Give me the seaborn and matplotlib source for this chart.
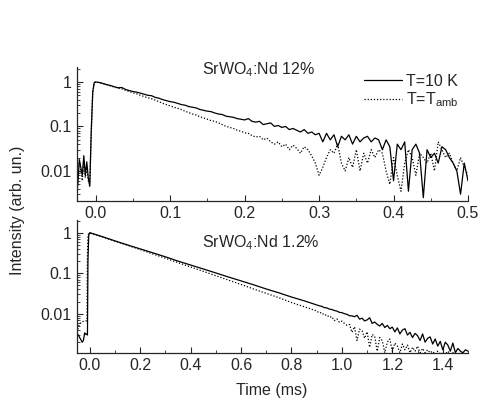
import numpy as np
import pandas as pd
import seaborn as sns
import matplotlib.pyplot as plt
from matplotlib.ticker import MultipleLocator, LogLocator, FuncFormatter, NullFormatter

# ---- SrWO4:Nd 12% (top panel) ----
t12_pre = [-0.026, -0.024, -0.022, -0.020, -0.018, -0.016, -0.014,
           -0.012, -0.010, -0.008, -0.006, -0.004, -0.002]
solid12_pre = [0.003, 0.005, 0.018, 0.012, 0.008, 0.022, 0.008,
               0.016, 0.007, 0.0045, 0.08, 0.6, 0.97]
dotted12_pre = [0.004, 0.012, 0.016, 0.010, 0.006, 0.018, 0.007,
                0.012, 0.006, 0.005, 0.07, 0.55, 0.95]

t12 = [0.000, 0.005, 0.010, 0.015, 0.020, 0.025, 0.030, 0.035, 0.040, 0.045,
       0.050, 0.055, 0.060, 0.065, 0.070, 0.075, 0.080, 0.085, 0.090, 0.095,
       0.100, 0.105, 0.110, 0.115, 0.120, 0.125, 0.130, 0.135, 0.140, 0.145,
       0.150, 0.155, 0.160, 0.165, 0.170, 0.175, 0.180, 0.185, 0.190, 0.195,
       0.200, 0.205, 0.210, 0.215, 0.220, 0.225, 0.230, 0.235, 0.240, 0.245,
       0.250, 0.255, 0.260, 0.265, 0.270, 0.275, 0.280, 0.285, 0.290, 0.295,
       0.300, 0.305, 0.310, 0.315, 0.320, 0.325, 0.330, 0.335, 0.340, 0.345,
       0.350, 0.355, 0.360, 0.365, 0.370, 0.375, 0.380, 0.385, 0.390, 0.395,
       0.400, 0.405, 0.410, 0.415, 0.420, 0.425, 0.430, 0.435, 0.440, 0.445,
       0.450, 0.455, 0.460, 0.465, 0.470, 0.475, 0.480, 0.485, 0.490, 0.495,
       0.500]
solid12 = [1.00, 0.97, 0.92, 0.87, 0.83, 0.78, 0.74, 0.75, 0.68, 0.64,
           0.61, 0.59, 0.56, 0.53, 0.50, 0.49, 0.45, 0.43, 0.40, 0.38,
           0.36, 0.35, 0.33, 0.31, 0.30, 0.28, 0.27, 0.26, 0.24, 0.23,
           0.22, 0.215, 0.20, 0.19, 0.185, 0.17, 0.165, 0.16, 0.15, 0.145,
           0.14, 0.15, 0.13, 0.125, 0.13, 0.11, 0.115, 0.12, 0.10, 0.105,
           0.095, 0.10, 0.085, 0.09, 0.082, 0.075, 0.085, 0.07, 0.075, 0.065,
           0.07, 0.045, 0.07, 0.05, 0.065, 0.035, 0.06, 0.05, 0.065, 0.04,
           0.06, 0.045, 0.055, 0.06, 0.045, 0.055, 0.05, 0.03, 0.05, 0.035,
           0.006, 0.04, 0.03, 0.045, 0.0035, 0.03, 0.04, 0.025, 0.0025, 0.03,
           0.02, 0.025, 0.015, 0.035, 0.03, 0.02, 0.015, 0.01, 0.003, 0.015,
           0.006]
dotted12 = [1.00, 0.96, 0.91, 0.86, 0.81, 0.77, 0.72, 0.70, 0.65, 0.61,
            0.57, 0.54, 0.50, 0.47, 0.44, 0.42, 0.39, 0.36, 0.33, 0.31,
            0.29, 0.27, 0.255, 0.24, 0.22, 0.205, 0.19, 0.18, 0.165, 0.155,
            0.145, 0.135, 0.13, 0.12, 0.11, 0.10, 0.095, 0.09, 0.082, 0.078,
            0.072, 0.07, 0.062, 0.058, 0.06, 0.05, 0.055, 0.045, 0.04, 0.045,
            0.035, 0.04, 0.03, 0.038, 0.032, 0.025, 0.035, 0.03, 0.022, 0.015,
            0.008, 0.012, 0.02, 0.03, 0.025, 0.04, 0.015, 0.01, 0.02, 0.012,
            0.03, 0.01, 0.025, 0.015, 0.03, 0.02, 0.03, 0.025, 0.01, 0.005,
            0.02, 0.008, 0.0035, 0.015, 0.03, 0.02, 0.008, 0.025, 0.02, 0.015,
            0.025, 0.01, 0.045, 0.03, 0.02, 0.025, 0.015, 0.01, 0.02, 0.012,
            0.008]

# ---- SrWO4:Nd 1.2% (bottom panel) ----
t1_pre = [-0.050, -0.045, -0.040, -0.035, -0.030, -0.025, -0.020,
          -0.015, -0.011, -0.009, -0.007, -0.004]
solid1_pre = [0.0032, 0.003, 0.0026, 0.0023, 0.002, 0.0022, 0.0034,
              0.0031, 0.0032, 0.003, 0.2, 0.85]
dotted1_pre = [0.0035, 0.0048, 0.0056, 0.006, 0.0064, 0.0065, 0.0066,
               0.0067, 0.0068, 0.3, 0.85, 0.98]

t1 = [0.00, 0.05, 0.10, 0.15, 0.20, 0.25, 0.30, 0.35, 0.40, 0.45,
      0.50, 0.55, 0.60, 0.65, 0.70, 0.75, 0.80, 0.85,
      0.90, 0.91, 0.92, 0.93, 0.94, 0.95, 0.96, 0.97, 0.98, 0.99,
      1.00, 1.01, 1.02, 1.03, 1.04, 1.05, 1.06, 1.07, 1.08, 1.09,
      1.10, 1.11, 1.12, 1.13, 1.14, 1.15, 1.16, 1.17, 1.18, 1.19,
      1.20, 1.21, 1.22, 1.23, 1.24, 1.25, 1.26, 1.27, 1.28, 1.29,
      1.30, 1.31, 1.32, 1.33, 1.34, 1.35, 1.36, 1.37, 1.38, 1.39,
      1.40, 1.41, 1.42, 1.43, 1.44, 1.45, 1.46, 1.47, 1.48, 1.49,
      1.50]
solid1 = [1.0, 0.80, 0.63, 0.50, 0.40, 0.32, 0.255, 0.20, 0.16, 0.128,
          0.102, 0.081, 0.065, 0.052, 0.041, 0.033, 0.026, 0.021,
          0.0166, 0.0158, 0.0153, 0.0143, 0.0140, 0.0131, 0.0128, 0.0121, 0.0117, 0.0109,
          0.0107, 0.0101, 0.0097, 0.0090, 0.0089, 0.0085, 0.0092, 0.0074, 0.0078, 0.0067,
          0.0071, 0.0080, 0.0058, 0.0063, 0.0055, 0.0050, 0.0058, 0.0046, 0.0052, 0.0043,
          0.0047, 0.0036, 0.0045, 0.0032, 0.0040, 0.0043, 0.0030, 0.0035, 0.0026, 0.0033,
          0.0029, 0.0022, 0.0032, 0.0020, 0.0025, 0.0027, 0.0018, 0.0024, 0.0016, 0.0021,
          0.0013, 0.0020, 0.0017, 0.0012, 0.0019, 0.0011, 0.0014, 0.0012, 0.0011, 0.0013,
          0.0012]
dotted1 = [1.0, 0.79, 0.62, 0.49, 0.385, 0.30, 0.235, 0.183, 0.143, 0.112,
           0.087, 0.068, 0.053, 0.041, 0.032, 0.025, 0.019, 0.015,
           0.0118, 0.0105, 0.0108, 0.0092, 0.0095, 0.0082, 0.0085, 0.0068, 0.0075, 0.0062,
           0.0066, 0.0058, 0.0052, 0.0055, 0.0035, 0.0048, 0.0022, 0.0042, 0.0038, 0.0025,
           0.0036, 0.0015, 0.0031, 0.0028, 0.0012, 0.0026, 0.0022, 0.0011, 0.002, 0.0024,
           0.0012, 0.0019, 0.0016, 0.0011, 0.0018, 0.0013, 0.0017, 0.0011, 0.0015, 0.0012,
           0.0016, 0.0011, 0.0014, 0.0011, 0.0013, 0.0011, 0.0012, 0.001, 0.0012, 0.001,
           0.0011, 0.001, 0.0012, 0.001, 0.0011, 0.001, 0.001, 0.0011, 0.001, 0.001,
           0.001]

sns.set_style("ticks")
plt.rcParams["font.family"] = ["Liberation Sans", "DejaVu Sans"]
plt.rcParams["mathtext.fontset"] = "custom"
plt.rcParams["mathtext.rm"] = "Liberation Sans"
plt.rcParams["mathtext.it"] = "Liberation Sans:italic"
plt.rcParams["mathtext.default"] = "regular"

FS = 11.5

fig = plt.figure(figsize=(4.88, 4.01), dpi=100)
ax1 = fig.add_axes([0.158, 0.499, 0.801, 0.334])
ax2 = fig.add_axes([0.158, 0.120, 0.801, 0.332])


def draw(ax, t_pre, s_pre, d_pre, t, s, d):
    tt = t_pre + t
    sns.lineplot(x=tt, y=s_pre + s, ax=ax, color="black", lw=0.9,
                 estimator=None, sort=False, label="T=10 K")
    sns.lineplot(x=tt, y=d_pre + d, ax=ax, color="black", lw=0.9,
                 linestyle=(0, (1, 1.5)), estimator=None, sort=False,
                 label="T=T$_{amb}$")
    ax.set_yscale("log")
    ax.yaxis.set_major_locator(LogLocator(base=10, numticks=10))
    ax.yaxis.set_minor_locator(LogLocator(base=10, subs=np.arange(2, 10), numticks=20))
    ax.yaxis.set_major_formatter(FuncFormatter(lambda v, _: f"{v:g}"))
    ax.yaxis.set_minor_formatter(NullFormatter())
    ax.tick_params(axis="both", which="major", direction="in", length=4,
                   width=0.8, labelsize=FS, pad=4)
    ax.tick_params(axis="both", which="minor", direction="in", length=2,
                   width=0.6)
    ax.set_xlabel("")
    ax.set_ylabel("")
    for side in ["top", "right"]:
        ax.spines[side].set_visible(False)
    for side in ["left", "bottom"]:
        ax.spines[side].set_linewidth(0.9)


draw(ax1, t12_pre, solid12_pre, dotted12_pre, t12, solid12, dotted12)
draw(ax2, t1_pre, solid1_pre, dotted1_pre, t1, solid1, dotted1)

ax1.set_xlim(-0.025, 0.5)
ax1.set_ylim(0.00212, 2.17)
ax1.xaxis.set_major_locator(MultipleLocator(0.1))
ax1.xaxis.set_minor_locator(MultipleLocator(0.05))
ax1.xaxis.set_major_formatter(FuncFormatter(lambda v, _: f"{v:.1f}"))

ax2.set_xlim(-0.05, 1.5)
ax2.set_ylim(0.00109, 2.09)
ax2.xaxis.set_major_locator(MultipleLocator(0.2))
ax2.xaxis.set_minor_locator(MultipleLocator(0.1))
ax2.xaxis.set_major_formatter(FuncFormatter(lambda v, _: f"{v:.1f}"))

ax2.get_legend().remove()
ax1.legend(loc="upper left", bbox_to_anchor=(364 / 488, 1 - 74 / 401),
           bbox_transform=fig.transFigure, frameon=False, fontsize=FS,
           handlelength=2.4, handletextpad=0.2, labelspacing=0.1,
           borderpad=0, borderaxespad=0)

fig.text(202 / 488, 1 - 70 / 401, "SrWO$_4$:Nd 12%", fontsize=FS, va="center")
fig.text(202 / 488, 1 - 243 / 401, "SrWO$_4$:Nd 1.2%", fontsize=FS, va="center")
fig.text(18 / 488, 1 - 210 / 401, "Intensity (arb. un.)", fontsize=FS,
         rotation=90, ha="center", va="center")
fig.text(272 / 488, 1 - 390 / 401, "Time (ms)", fontsize=FS,
         ha="center", va="center")

fig.savefig("out.png", dpi=100)
